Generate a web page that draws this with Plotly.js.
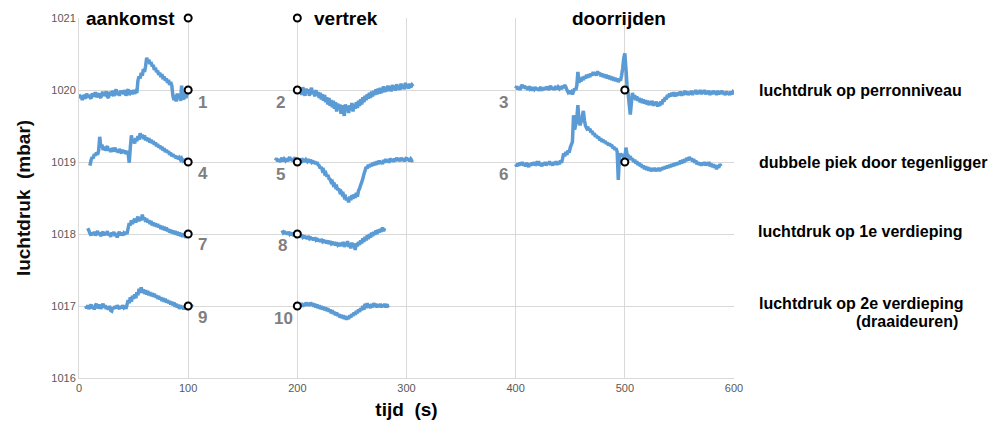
<!DOCTYPE html>
<html>
<head>
<meta charset="utf-8">
<script src="https://cdn.plot.ly/plotly-3.0.1.min.js"></script>
<style>html,body{margin:0;padding:0;background:#fff;}#chart{width:996px;height:434px;}</style>
</head>
<body>
<div id="chart"></div>
<script>
// sample interval (s) of the recorded pressure traces
const DT = 1;

// 1: aankomst, perronniveau
const start1 = 0;
const p1 = [1019.94,1019.89,1019.92,1019.86,1019.93,1019.91,1019.88,1019.95,1019.90,1019.93,1019.90,1019.88,1019.95,1019.93,1019.91,1019.97,1019.90,1019.93,1019.95,1019.91,1019.89,1019.95,1019.97,1019.92,1019.94,1019.98,1019.91,1019.89,1019.97,1019.95,1019.94,1019.99,1019.92,1019.96,1020.01,1019.93,1019.97,1019.92,1019.99,1019.95,1019.99,1019.94,1020.00,1019.92,1019.98,1020.01,1019.93,1019.97,1019.99,1019.94,1020.00,1019.95,1019.98,1019.96,1020.13,1020.19,1020.16,1020.24,1020.20,1020.29,1020.25,1020.33,1020.45,1020.38,1020.42,1020.36,1020.39,1020.33,1020.35,1020.28,1020.31,1020.25,1020.27,1020.21,1020.24,1020.18,1020.22,1020.15,1020.19,1020.13,1020.16,1020.10,1020.14,1020.07,1020.11,1020.06,1019.92,1019.86,1019.93,1019.84,1019.95,1019.88,1019.91,1019.85,1020.06,1019.90,1019.87,1019.96,1019.89,1019.94,1019.97];
// 2: vertrek, perronniveau
const start2 = 200;
const p2 = [1019.97,1020.03,1019.95,1020.01,1019.93,1020.04,1019.97,1019.92,1020.02,1019.96,1020.01,1019.92,1019.99,1020.03,1019.94,1019.98,1019.91,1020.00,1019.93,1019.97,1019.89,1019.96,1019.87,1019.94,1019.85,1019.93,1019.83,1019.90,1019.80,1019.89,1019.78,1019.86,1019.76,1019.85,1019.74,1019.83,1019.70,1019.81,1019.73,1019.80,1019.67,1019.79,1019.72,1019.64,1019.80,1019.71,1019.78,1019.68,1019.79,1019.72,1019.82,1019.70,1019.80,1019.74,1019.83,1019.75,1019.85,1019.78,1019.87,1019.80,1019.90,1019.83,1019.92,1019.86,1019.94,1019.88,1019.96,1019.89,1019.98,1019.91,1019.99,1019.93,1020.01,1019.94,1020.02,1019.95,1020.03,1019.96,1020.00,1020.05,1019.97,1020.04,1019.98,1020.06,1019.99,1020.05,1019.98,1020.07,1020.00,1020.06,1019.99,1020.08,1020.01,1020.06,1020.00,1020.09,1020.02,1020.07,1020.01,1020.10,1020.03,1020.08,1020.02,1020.09,1020.04,1020.07,1020.05];
// 3: doorrijden, perronniveau
const start3 = 400;
const p3 = [1020.02,1020.05,1020.01,1020.04,1020.00,1020.05,1020.07,1020.03,1020.06,1020.02,1020.04,1020.00,1020.05,1020.02,1020.04,1019.99,1020.03,1020.01,1020.04,1020.00,1020.03,1019.99,1020.02,1020.04,1019.99,1020.03,1020.00,1020.04,1020.01,1020.05,1020.00,1020.03,1020.06,1020.01,1020.04,1020.00,1020.03,1020.05,1020.01,1020.04,1020.02,1020.05,1020.01,1020.06,1020.03,1020.07,1020.04,1020.00,1019.97,1019.99,1019.95,1019.97,1019.94,1019.98,1020.02,1020.00,1020.06,1020.25,1020.10,1020.15,1020.12,1020.18,1020.14,1020.19,1020.16,1020.21,1020.17,1020.22,1020.18,1020.23,1020.20,1020.25,1020.21,1020.24,1020.20,1020.26,1020.22,1020.24,1020.19,1020.23,1020.18,1020.22,1020.17,1020.21,1020.16,1020.20,1020.15,1020.19,1020.14,1020.18,1020.13,1020.17,1020.12,1020.16,1020.11,1020.15,1020.13,1020.20,1020.30,1020.44,1020.51,1020.30,1020.07,1019.96,1019.80,1019.66,1019.82,1019.96,1019.88,1019.93,1019.86,1019.91,1019.85,1019.89,1019.83,1019.88,1019.82,1019.87,1019.81,1019.86,1019.80,1019.85,1019.79,1019.84,1019.80,1019.85,1019.78,1019.83,1019.79,1019.84,1019.77,1019.82,1019.78,1019.84,1019.80,1019.87,1019.84,1019.90,1019.87,1019.93,1019.90,1019.95,1019.91,1019.96,1019.92,1019.97,1019.91,1019.96,1019.92,1019.97,1019.93,1019.98,1019.92,1019.97,1019.93,1019.99,1019.94,1019.98,1019.93,1019.97,1019.94,1019.99,1019.93,1019.98,1019.95,1020.00,1019.94,1019.98,1019.95,1020.00,1019.94,1019.99,1019.95,1020.00,1019.94,1019.98,1019.95,1019.99,1019.93,1019.98,1019.94,1019.99,1019.95,1019.98,1019.93,1019.99,1019.94,1019.98,1019.95,1019.99,1019.94,1019.97,1019.93,1019.98,1019.94,1019.97,1019.93,1019.98,1019.94,1019.97,1019.95];
// 4: aankomst, dubbele piek
const start4 = 10;
const p4 = [1018.95,1019.02,1019.07,1019.05,1019.11,1019.09,1019.13,1019.10,1019.16,1019.35,1019.20,1019.24,1019.17,1019.21,1019.16,1019.19,1019.22,1019.16,1019.18,1019.14,1019.19,1019.17,1019.15,1019.20,1019.14,1019.17,1019.13,1019.18,1019.15,1019.12,1019.17,1019.13,1019.16,1019.11,1019.15,1019.12,1018.99,1019.20,1019.37,1019.27,1019.30,1019.26,1019.33,1019.29,1019.36,1019.31,1019.40,1019.34,1019.38,1019.32,1019.37,1019.30,1019.34,1019.29,1019.33,1019.27,1019.31,1019.26,1019.29,1019.24,1019.27,1019.22,1019.25,1019.20,1019.23,1019.18,1019.21,1019.16,1019.19,1019.14,1019.17,1019.13,1019.15,1019.10,1019.13,1019.08,1019.11,1019.07,1019.09,1019.05,1019.08,1019.04,1019.06,1019.03,1019.05,1019.02,1019.04,1019.00,1019.02,1018.99,1019.01];
// 5: vertrek, dubbele piek
const start5 = 180;
const p5 = [1019.02,1019.05,1019.01,1019.04,1019.00,1019.03,1019.06,1019.01,1019.04,1019.02,1019.05,1019.01,1019.04,1019.07,1019.02,1019.05,1019.01,1019.04,1019.06,1019.02,1019.05,1019.01,1019.04,1019.00,1019.05,1019.02,1019.04,1019.00,1019.03,1019.01,1019.04,1018.99,1019.03,1019.00,1019.02,1018.98,1019.01,1018.97,1019.00,1018.96,1018.95,1018.91,1018.93,1018.88,1018.89,1018.84,1018.85,1018.80,1018.82,1018.77,1018.76,1018.72,1018.73,1018.68,1018.69,1018.65,1018.66,1018.61,1018.63,1018.58,1018.59,1018.55,1018.56,1018.51,1018.52,1018.47,1018.50,1018.44,1018.52,1018.47,1018.54,1018.49,1018.55,1018.50,1018.57,1018.52,1018.60,1018.63,1018.68,1018.72,1018.77,1018.83,1018.88,1018.93,1018.91,1018.96,1018.93,1018.97,1018.94,1018.99,1018.95,1019.00,1018.96,1019.01,1018.97,1019.02,1018.98,1019.01,1018.97,1019.03,1018.99,1019.04,1019.00,1019.03,1018.99,1019.05,1019.01,1019.04,1019.00,1019.05,1019.01,1019.06,1019.02,1019.05,1019.01,1019.06,1019.02,1019.05,1019.01,1019.04,1019.06,1019.02,1019.05,1019.01,1019.04,1019.02,1019.03];
// 6: doorrijden, dubbele piek
const start6 = 400;
const p6 = [1018.97,1018.94,1018.98,1018.95,1018.99,1018.96,1019.00,1018.95,1018.98,1018.94,1018.99,1018.96,1018.93,1018.98,1018.95,1018.99,1018.96,1019.00,1018.95,1018.98,1018.96,1019.01,1018.95,1018.98,1018.94,1018.99,1018.96,1019.00,1018.95,1018.99,1018.97,1019.01,1018.96,1018.99,1018.95,1019.00,1018.97,1019.01,1018.96,1019.00,1018.97,1019.02,1018.99,1019.05,1019.12,1019.08,1019.14,1019.10,1019.16,1019.13,1019.20,1019.24,1019.28,1019.65,1019.45,1019.52,1019.60,1019.79,1019.58,1019.51,1019.56,1019.63,1019.71,1019.58,1019.50,1019.47,1019.49,1019.44,1019.46,1019.41,1019.43,1019.38,1019.40,1019.35,1019.37,1019.33,1019.35,1019.30,1019.33,1019.28,1019.31,1019.27,1019.29,1019.25,1019.27,1019.23,1019.26,1019.22,1019.24,1019.19,1019.21,1019.17,1019.19,1019.14,1018.75,1019.04,1019.12,1019.08,1019.11,1019.06,1019.04,1019.20,1019.11,1019.09,1019.06,1019.08,1019.03,1019.05,1019.00,1019.03,1018.98,1019.01,1018.96,1018.99,1018.94,1018.97,1018.92,1018.95,1018.90,1018.94,1018.89,1018.93,1018.88,1018.92,1018.87,1018.91,1018.88,1018.92,1018.87,1018.91,1018.88,1018.92,1018.87,1018.92,1018.89,1018.93,1018.90,1018.94,1018.91,1018.95,1018.92,1018.96,1018.93,1018.97,1018.94,1018.98,1018.95,1018.99,1018.96,1019.00,1018.97,1019.02,1018.98,1019.03,1018.99,1019.04,1019.01,1019.06,1019.02,1019.07,1019.03,1019.05,1019.01,1019.04,1018.99,1019.02,1018.97,1019.00,1018.96,1018.99,1018.95,1018.99,1018.96,1019.00,1018.95,1018.99,1018.96,1019.00,1018.94,1018.98,1018.93,1018.97,1018.92,1018.96,1018.90,1018.95,1018.92,1018.97,1018.94];
// 7: aankomst, 1e verdieping
const start7 = 8;
const p7 = [1018.08,1018.05,1018.01,1017.98,1018.02,1017.99,1018.03,1017.98,1018.01,1018.04,1017.99,1018.02,1017.97,1018.01,1018.03,1017.98,1018.02,1017.99,1018.04,1017.98,1018.01,1017.96,1018.02,1017.99,1018.03,1017.97,1018.01,1017.95,1018.00,1018.03,1017.98,1018.02,1017.98,1018.01,1017.99,1018.03,1018.00,1018.08,1018.15,1018.12,1018.19,1018.14,1018.18,1018.21,1018.16,1018.20,1018.24,1018.18,1018.22,1018.19,1018.27,1018.20,1018.23,1018.17,1018.21,1018.16,1018.19,1018.14,1018.18,1018.12,1018.16,1018.11,1018.15,1018.10,1018.14,1018.09,1018.12,1018.07,1018.11,1018.06,1018.10,1018.05,1018.09,1018.04,1018.07,1018.02,1018.06,1018.01,1018.05,1018.00,1018.04,1017.99,1018.03,1017.98,1018.02,1017.97,1018.01,1017.96,1018.00,1017.98,1017.95,1018.01,1017.98];
// 8: vertrek, 1e verdieping
const start8 = 186;
const p8 = [1018.05,1018.02,1018.04,1018.00,1018.03,1017.99,1018.03,1018.00,1018.02,1017.98,1018.02,1017.97,1018.01,1017.98,1018.00,1017.96,1018.00,1017.95,1017.99,1017.96,1017.98,1017.94,1017.97,1017.93,1017.97,1017.94,1017.96,1017.92,1017.95,1017.91,1017.95,1017.92,1017.94,1017.90,1017.93,1017.89,1017.93,1017.90,1017.92,1017.88,1017.91,1017.87,1017.91,1017.86,1017.90,1017.87,1017.89,1017.85,1017.89,1017.84,1017.88,1017.85,1017.87,1017.83,1017.88,1017.84,1017.89,1017.82,1017.88,1017.84,1017.90,1017.82,1017.87,1017.80,1017.88,1017.83,1017.86,1017.78,1017.87,1017.83,1017.89,1017.85,1017.91,1017.87,1017.94,1017.89,1017.96,1017.91,1017.98,1017.93,1018.00,1017.95,1018.02,1017.97,1018.03,1017.99,1018.05,1018.00,1018.06,1018.02,1018.07,1018.03,1018.09,1018.04,1018.08];
// 9: aankomst, 2e verdieping
const start9 = 6;
const p9 = [1017.00,1016.97,1017.01,1016.96,1016.99,1017.02,1016.97,1017.00,1016.95,1017.01,1017.03,1016.97,1016.99,1017.02,1016.96,1017.00,1017.03,1016.98,1017.01,1016.96,1016.99,1016.95,1017.00,1016.94,1016.93,1016.98,1016.96,1017.00,1016.97,1017.01,1016.98,1016.96,1017.00,1016.97,1017.01,1016.98,1017.00,1016.96,1017.02,1017.08,1017.04,1017.12,1017.06,1017.14,1017.10,1017.16,1017.11,1017.19,1017.15,1017.24,1017.18,1017.26,1017.19,1017.23,1017.17,1017.22,1017.16,1017.21,1017.15,1017.19,1017.14,1017.18,1017.13,1017.17,1017.12,1017.15,1017.10,1017.14,1017.09,1017.12,1017.07,1017.11,1017.06,1017.10,1017.05,1017.08,1017.04,1017.07,1017.02,1017.06,1017.01,1017.05,1016.99,1017.03,1016.98,1017.02,1016.96,1017.01,1016.97,1017.00,1016.95,1017.00,1016.97,1017.01,1016.98,1017.00,1016.97,1017.01,1016.99];
// 10: vertrek, 2e verdieping
const start10 = 200;
const p10 = [1017.02,1016.99,1017.03,1017.00,1017.04,1016.99,1017.03,1017.00,1017.05,1017.01,1017.04,1017.00,1017.05,1017.01,1017.04,1016.99,1017.03,1016.98,1017.02,1016.97,1017.01,1016.96,1017.00,1016.95,1016.99,1016.94,1016.98,1016.93,1016.97,1016.92,1016.95,1016.90,1016.94,1016.89,1016.92,1016.87,1016.91,1016.86,1016.89,1016.84,1016.88,1016.83,1016.87,1016.82,1016.86,1016.81,1016.85,1016.82,1016.87,1016.84,1016.89,1016.86,1016.91,1016.88,1016.93,1016.90,1016.95,1016.92,1016.97,1016.94,1017.00,1016.95,1017.03,1016.97,1017.04,1016.98,1017.02,1016.97,1017.03,1016.98,1017.04,1016.99,1017.03,1016.98,1017.02,1016.99,1017.03,1016.98,1017.02,1016.99,1017.03,1016.98,1017.02,1017.00,1017.01];

// event markers (open circles)
const eventX = [100,100,100,100,100,200,200,200,200,200,500,500];
const eventY = [1021,1020,1019,1018,1017,1021,1020,1019,1018,1017,1020,1019];

// texts
const numLabels = ['1','2','3','4','5','6','7','8','9','10'];
const phaseLabels = ['aankomst','vertrek','doorrijden'];
const rowLabels = ['luchtdruk op perronniveau','dubbele piek door tegenligger','luchtdruk op 1e verdieping','luchtdruk op 2e verdieping','(draaideuren)'];
const xTicks = [0,100,200,300,400,500,600];
const yTicks = [1016,1017,1018,1019,1020,1021];

const series = [[start1,p1],[start2,p2],[start3,p3],[start4,p4],[start5,p5],[start6,p6],[start7,p7],[start8,p8],[start9,p9],[start10,p10]];

const traces = series.map(([s, vals], i) => ({
  type: 'scatter', mode: 'lines', name: numLabels[i],
  x: vals.map((_, k) => s + k * DT), y: vals,
  line: {color: '#5b9bd5', width: 3.5, simplify: false}, hoverinfo: 'skip', showlegend: false
}));
traces.push({
  type: 'scatter', mode: 'markers', x: eventX, y: eventY, cliponaxis: false, showlegend: false,
  marker: {symbol: 'circle', size: 7, color: '#ffffff', line: {color: '#000000', width: 2}}
});

// positions for the trace numbers (data coords)
const numPos = [[113.5,1019.83],[185,1019.83],[388.5,1019.82],[113.5,1018.84],[185,1018.82],[388.5,1018.82],[113.5,1017.86],[186,1017.84],[113.5,1016.84],[187,1016.83]];
const annotations = numLabels.map((t, i) => ({
  x: numPos[i][0], y: numPos[i][1], xref: 'x', yref: 'y', text: t, showarrow: false,
  font: {family: 'Liberation Sans, Arial, sans-serif', size: 17, color: '#7f7f7f', weight: 'bold'},
  xanchor: 'center', yanchor: 'middle'
}));
const titleFont = {family: 'Liberation Sans, Arial, sans-serif', size: 19, color: '#000000', weight: 'bold'};
annotations.push({x: 90, y: 1021, xref: 'x', yref: 'y', text: phaseLabels[0], showarrow: false, font: titleFont, xanchor: 'right', yanchor: 'middle'});
annotations.push({x: 213, y: 1021, xref: 'x', yref: 'y', text: phaseLabels[1], showarrow: false, font: titleFont, xanchor: 'left', yanchor: 'middle'});
annotations.push({x: 494.5, y: 1021, xref: 'x', yref: 'y', text: phaseLabels[2], showarrow: false, font: titleFont, xanchor: 'center', yanchor: 'middle'});
const rowFont = {family: 'Liberation Sans, Arial, sans-serif', size: 16, color: '#000000', weight: 'bold'};
const rowPos = [[1.035,1019.99],[1.035,1018.99],[1.0335,1018.04],[1.035,1017.04],[1.345,1016.79]];
rowLabels.forEach((t, i) => annotations.push({
  x: rowPos[i][0], y: rowPos[i][1], xref: 'paper', yref: 'y', text: t, showarrow: false, font: rowFont,
  xanchor: i === 4 ? 'right' : 'left', yanchor: 'middle'
}));

const tickFont = {family: 'Liberation Sans Narrow, Arial Narrow, Arial, sans-serif', size: 11, color: '#595959'};
const layout = {
  width: 996, height: 434,
  margin: {l: 79, r: 262, t: 18, b: 56},
  paper_bgcolor: '#ffffff', plot_bgcolor: '#ffffff',
  showlegend: false,
  xaxis: {
    range: [0, 600], tickvals: xTicks, ticktext: xTicks.map(String), showgrid: true, gridcolor: '#d9d9d9', gridwidth: 1,
    zeroline: false, showline: true, linecolor: '#d9d9d9', linewidth: 1, ticks: '', tickfont: tickFont,
    title: {text: 'tijd&nbsp; (s)', font: {family: 'Liberation Sans, Arial, sans-serif', size: 19, color: '#000000', weight: 'bold'}, standoff: 9}
  },
  yaxis: {
    range: [1016, 1021], tickvals: yTicks, ticktext: yTicks.map(String), showgrid: true, gridcolor: '#d9d9d9', gridwidth: 1,
    zeroline: false, showline: true, linecolor: '#d9d9d9', linewidth: 1, ticks: '', tickfont: tickFont,
    title: {text: 'luchtdruk&nbsp; (mbar)', font: {family: 'Liberation Sans, Arial, sans-serif', size: 19, color: '#0d0d0d', weight: 'bold'}, standoff: 15}
  },
  annotations: annotations
};
Plotly.newPlot('chart', traces, layout, {displayModeBar: false, staticPlot: true});
</script>
</body>
</html>
